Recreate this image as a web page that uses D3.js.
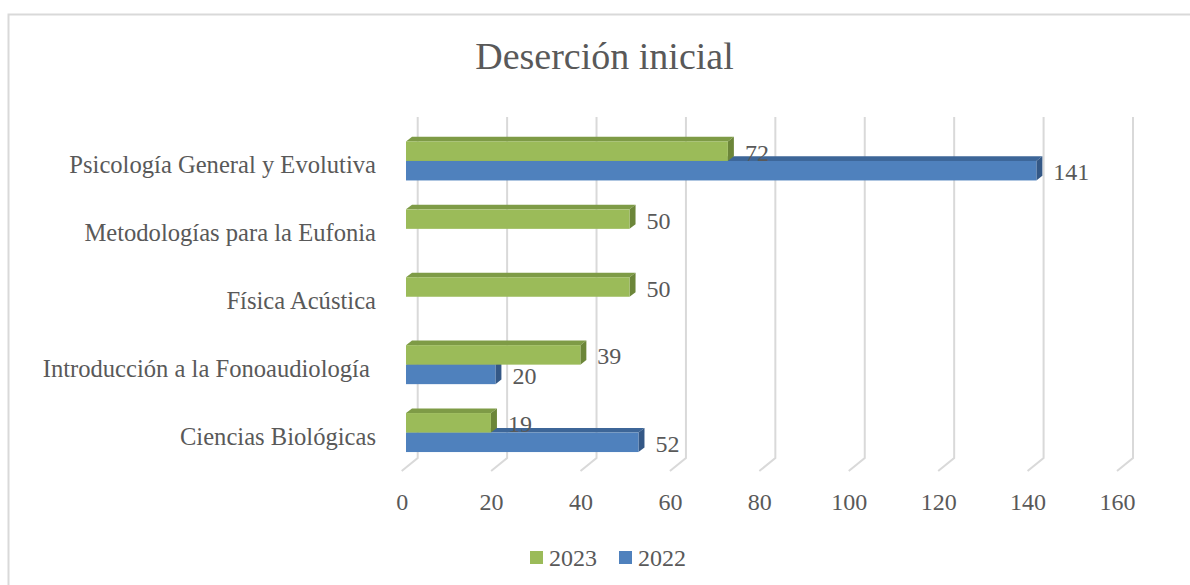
<!DOCTYPE html>
<html>
<head>
<meta charset="utf-8">
<script src="https://cdn.jsdelivr.net/npm/d3@7"></script>
<style>
  body { margin: 0; background: #fff; }
  svg text { font-family: "Liberation Serif", "DejaVu Serif", serif; fill: #595959; }
</style>
</head>
<body>
<svg id="chart" width="1190" height="585"></svg>
<script>
// categories from bottom to top, as in the source
let categories = [
  "Ciencias Biológicas",
  "Introducción a la Fonoaudiología ",
  "Física Acústica",
  "Metodologías para la Eufonia",
  "Psicología General y Evolutiva"
];
let series = ["2023", "2022"];
let values2023 = [19, 39, 50, 50, 72];
let values2022 = [52, 20, null, null, 141];
let xTicks = [0, 20, 40, 60, 80, 100, 120, 140, 160];

let svg = d3.select("#chart");

// chart border
svg.append("rect")
  .attr("x", 8.5).attr("y", 14.5)
  .attr("width", 1200).attr("height", 600)
  .attr("fill", "none")
  .attr("stroke", "#d9d9d9")
  .attr("stroke-width", 2);

svg.append("text")
  .attr("x", 604.5).attr("y", 69)
  .attr("text-anchor", "middle")
  .style("font-size", "38px")
  .text("Deserción inicial");

// back wall scale, front floor and bar planes are shifted copies
let xBack = d3.scaleLinear().domain([0, 160]).range([417.7, 1133]);
let xFront = xBack.copy().range([401.7, 1117]);
let xBar = xBack.copy().range([406, 1121.3]);
let depthX = 6, depthY = 4.6;

let y = d3.scaleBand()
  .domain(categories.slice().reverse())
  .range([127, 466.5]);
let ySeries = d3.scaleBand().domain(series).range([-19.5, 19.5]);
function center(c) { return y(c) + y.bandwidth() / 2; }

// gridlines with the floor diagonal
let grid = svg.append("g");
xTicks.forEach(function(t) {
  grid.append("path")
    .attr("d", "M" + xBack(t) + ",117 L" + xBack(t) + ",458 L" + xFront(t) + ",471")
    .attr("fill", "none")
    .attr("stroke", "#d9d9d9")
    .attr("stroke-width", 2);
});

// x axis labels
let xAxis = svg.append("g")
  .attr("transform", "translate(0,490)")
  .call(d3.axisBottom(xFront).tickValues(xTicks).tickSize(0).tickPadding(0));
xAxis.select(".domain").remove();
xAxis.selectAll("text")
  .attr("dy", "0.85em")
  .style("font-size", "24px")
  .style("fill", "#595959");

// category labels
svg.selectAll(".cat")
  .data(categories)
  .enter()
  .append("text")
  .attr("class", "cat")
  .attr("x", 376)
  .attr("y", function(d) { return center(d) + 12; })
  .attr("text-anchor", "end")
  .style("font-size", "24.6px")
  .style("white-space", "pre")
  .text(function(d) { return d; });

let colors = {
  "2023": { front: "#9bbb59", top: "#7e9b46", side: "#6c8639" },
  "2022": { front: "#4f81bd", top: "#3d6698", side: "#345886" }
};

function drawBars(name, vals) {
  let c = colors[name];
  let g = svg.append("g");
  categories.forEach(function(cat, i) {
    let v = vals[i];
    if (v == null) return;
    let x0 = xBar(0), x1 = xBar(v);
    let yt = center(cat) + ySeries(name);
    let h = ySeries.bandwidth();
    g.append("path")
      .attr("d", "M" + x0 + "," + yt + " L" + x1 + "," + yt +
        " L" + (x1 + depthX) + "," + (yt - depthY) +
        " L" + (x0 + depthX) + "," + (yt - depthY) + "Z")
      .attr("fill", c.top);
    g.append("path")
      .attr("d", "M" + x1 + "," + yt + " L" + (x1 + depthX) + "," + (yt - depthY) +
        " L" + (x1 + depthX) + "," + (yt + h - depthY) +
        " L" + x1 + "," + (yt + h) + "Z")
      .attr("fill", c.side);
    g.append("rect")
      .attr("x", x0).attr("y", yt)
      .attr("width", x1 - x0).attr("height", h)
      .attr("fill", c.front);
    g.append("text")
      .attr("x", x1 + 17)
      .attr("y", yt + h / 2 + 9.5)
      .style("font-size", "24px")
      .text(v);
  });
}

// 2022 first so the 2023 bars sit over its top faces
drawBars("2022", values2022);
drawBars("2023", values2023);

// legend
let legendX = [530, 619];
let legend = svg.selectAll(".leg")
  .data(series)
  .enter()
  .append("g")
  .attr("class", "leg")
  .attr("transform", function(d, i) { return "translate(" + legendX[i] + ",551)"; });
legend.append("rect")
  .attr("width", 13).attr("height", 13)
  .attr("fill", function(d) { return colors[d].front; });
legend.append("text")
  .attr("x", 19).attr("y", 15)
  .style("font-size", "24px")
  .text(function(d) { return d; });
</script>
</body>
</html>
